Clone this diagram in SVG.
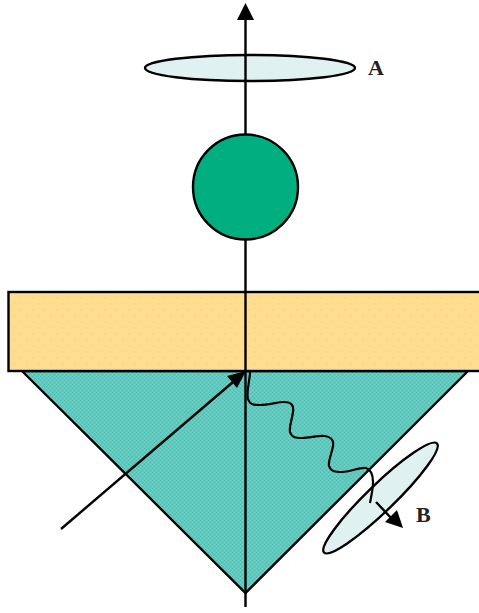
<svg xmlns="http://www.w3.org/2000/svg" width="479" height="613" viewBox="0 0 479 613">
<style>
.o{stroke:#000;stroke-width:2.4}
.l{fill:none;stroke:#000;stroke-width:2.4}
.h{fill:#000;stroke:none}
.e{fill:url(#pale);stroke:#000;stroke-width:2.4}
text{font-family:"Liberation Serif","Times New Roman",serif;font-weight:bold;font-size:22px;fill:#222}
</style>
<defs>
<pattern id="teal" width="4" height="4" patternUnits="userSpaceOnUse">
<rect width="4" height="4" fill="#5FC9BD"/>
<rect width="1" height="1" fill="#45C0B3"/><rect x="2" y="2" width="1" height="1" fill="#45C0B3"/>
<rect x="2" width="1" height="1" fill="#7AD0C6"/><rect y="2" width="1" height="1" fill="#7AD0C6"/>
</pattern>
<pattern id="sand" width="12" height="12" patternUnits="userSpaceOnUse">
<rect width="12" height="12" fill="#FFDD90"/>
<rect x="2" y="3" width="1.5" height="1.5" fill="#FDD276"/><rect x="8" y="9" width="1.5" height="1.5" fill="#FDD276"/>
</pattern>
<pattern id="pale" width="12" height="12" patternUnits="userSpaceOnUse">
<rect width="12" height="12" fill="#DFF2F1"/>
<rect x="3" y="4" width="1" height="1" fill="#D5EDEB"/>
</pattern>
</defs>
<g id="prism"><polygon points="22,371 468,371 245.500,593" fill="url(#teal)" class="o"/></g>
<g id="slab"><rect x="8.500" y="292" width="480" height="79" fill="url(#sand)" class="o"/></g>
<g id="lens-a"><ellipse cx="250" cy="68" rx="105" ry="13" class="e"/></g>
<g id="lens-b"><ellipse cx="380.500" cy="498" rx="78.500" ry="13.500" transform="rotate(-44 380.500 498)" class="e"/></g>
<g id="connectors">
<path class="l" d="M245.500 607V18"/>
<polygon class="h" points="245.500,3 254,20 237,20"/>
<path class="l" d="M61 529L233 382"/>
<polygon class="h" points="246,371 237,388 227,376"/>
<path class="l" style="stroke-width:2.200" d="M250 372C250 380 246 392 248 399C250 405 254 405 260 405C268 405 278 402 284 402C292 402 294 406 293 412C292 420 289 426 290 432C292 438 296 438 302 438C310 438 318 435 325 436C331 437 334 440 333 446C332 453 328 461 329 466C331 472 336 472 342 472C350 472 360 467 366 468C372 470 373 476 373 482C373 490 371 497 370 503"/>
<path class="l" d="M376 502L393 520"/>
<polygon class="h" points="403,528 385,522 397,510"/>
</g>
<g id="sphere"><circle cx="245.500" cy="187" r="52.500" fill="#00AE80" class="o"/></g>
<g id="label-a"><text x="368" y="75">A</text></g>
<g id="label-b"><text x="416" y="522">B</text></g>
</svg>
